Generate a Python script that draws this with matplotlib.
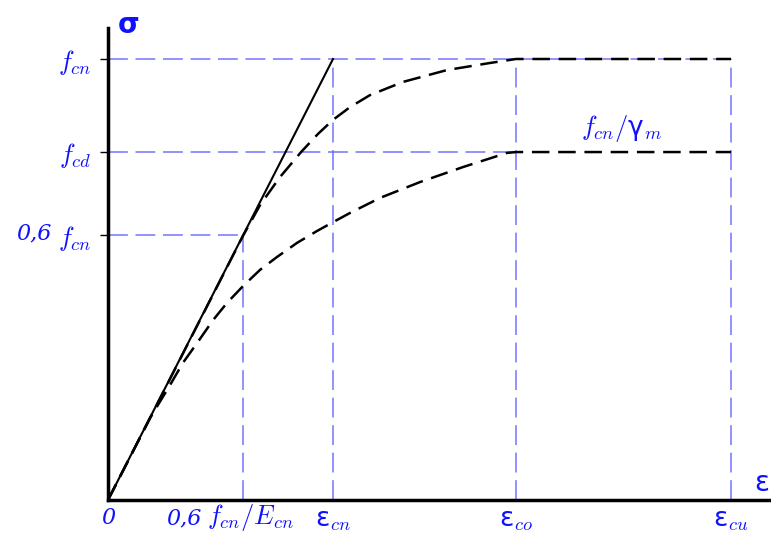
import matplotlib.pyplot as plt
import numpy as np

plt.rcParams['mathtext.fontset'] = 'cm'

# strain levels (normalised to eps_cn = 1) and stress levels (normalised to f_cn = 1)
eps_el = 0.6
eps_cn = 1.0
eps_co = 1.813
eps_cu = 2.769
f_cn = 1.0
f_cd = 0.789
f_06 = 0.6

# curves
upper_x = [0.0, 0.187, 0.409, 0.6, 0.676, 0.764, 0.858, 0.933, 1.0, 1.076, 1.164, 1.311, 1.507, 1.698, 1.813, 2.769]
upper_y = [0.0, 0.186, 0.408, 0.599, 0.669, 0.732, 0.789, 0.830, 0.862, 0.891, 0.918, 0.948, 0.975, 0.991, 1.0, 1.0]
lower_x = [0.0, 0.187, 0.276, 0.333, 0.396, 0.467, 0.529, 0.6, 0.676, 0.751, 0.84, 0.929, 1.0, 1.076,
           1.209, 1.387, 1.578, 1.773, 1.813, 2.769]
lower_y = [0.0, 0.186, 0.261, 0.311, 0.356, 0.408, 0.447, 0.485, 0.522, 0.551, 0.583, 0.610, 0.630, 0.651,
           0.685, 0.721, 0.755, 0.787, 0.789, 0.789]

blue = '#5c5cff'
txt = '#1010ff'
W, H = 771, 533

fig = plt.figure(figsize=(7.71, 5.33), dpi=100)
ax = fig.add_axes([108/W, 33/H, 662/W, 472/H])
ax.set_xlim(0, 662/225)
ax.set_ylim(0, 472/441)

dash = dict(color=blue, lw=1.1, dashes=(13, 5), alpha=0.85)
ax.plot([0, eps_cu], [f_cn, f_cn], **dash)
ax.plot([0, eps_co], [f_cd, f_cd], **dash)
ax.plot([0, eps_el], [f_06, f_06], **dash)
ax.plot([eps_el, eps_el], [0, f_06], **dash)
for e in [eps_cn, eps_co, eps_cu]:
    ax.plot([e, e], [0, f_cn], **dash)

ax.plot([0, eps_cn], [0, f_cn], color='black', lw=1.5)
ax.plot(upper_x, upper_y, color='black', lw=1.8, dashes=(7, 3.5))
ax.plot(lower_x, lower_y, color='black', lw=1.8, dashes=(7, 3.5))

for s in ['top', 'right']:
    ax.spines[s].set_visible(False)
for s in ['left', 'bottom']:
    ax.spines[s].set_linewidth(2.5)

ax.set_yticks([f_06, f_cd, f_cn])
ax.set_yticklabels(['$f_{cn}$', '$f_{cd}$', '$f_{cn}$'], color=txt, fontsize=19)
ax.tick_params(axis='y', length=6, width=1, pad=6)

ax.set_xticks([0, eps_el, eps_cn, eps_co, eps_cu])
xlabs = ax.set_xticklabels(['0', '', 'ε$_{cn}$', 'ε$_{co}$', 'ε$_{cu}$'], color=txt, fontsize=19)
xlabs[0].set_family('DejaVu Serif')
xlabs[0].set_style('italic')
xlabs[0].set_fontsize(16)
ax.tick_params(axis='x', length=0, pad=5)

# "0,6" parts set in a smaller italic serif, next to the math parts
num = dict(color=txt, fontsize=16, family='DejaVu Serif', style='italic')
fig.text(52/W, 1 - 239/H, '0,6', ha='right', va='baseline', **num)
fig.text(202/W, 1 - 524/H, '0,6', ha='right', va='baseline', **num)
fig.text(207/W, 1 - 524/H, '$f_{cn}/E_{cn}$', ha='left', va='baseline', color=txt, fontsize=19)

fig.text(118/W, 1 - 25/H, 'σ', color=txt, fontsize=20, fontweight='bold', va='center')
fig.text(762/W, 1 - 483/H, 'ε', color=txt, fontsize=20, va='center', ha='center')
ax.text((622-108)/225, (500-128)/441, '$f_{cn}/$γ$_m$', color=txt, fontsize=19,
        ha='center', va='center')

fig.savefig('out.png', dpi=100)
